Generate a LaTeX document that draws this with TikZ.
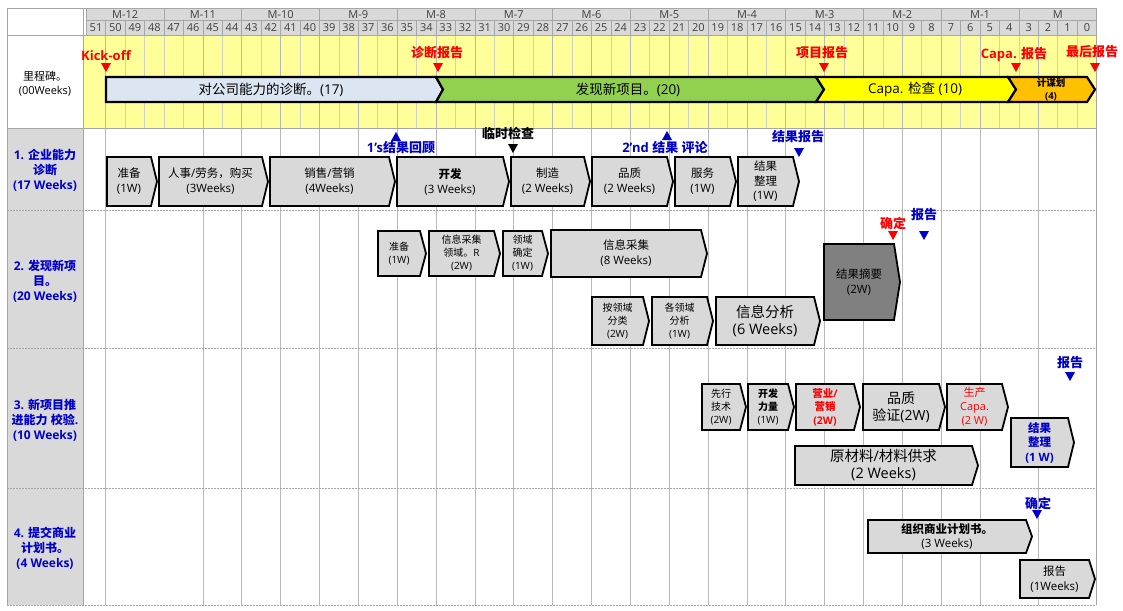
\documentclass[tikz,border=0pt]{standalone}
\usepackage{fontspec}
\setmainfont{Open Sans}
\newfontfamily\cjkf{Noto Sans CJK SC}
\newfontfamily\latf{Open Sans}
\XeTeXinterchartokenstate=1
\newXeTeXintercharclass\CJKcls
\newcount\cjkcnt
\cjkcnt="3000
\loop\XeTeXcharclass\cjkcnt=\CJKcls\ifnum\cjkcnt<"9FFF\advance\cjkcnt by 1\repeat
\cjkcnt="FF00
\loop\XeTeXcharclass\cjkcnt=\CJKcls\ifnum\cjkcnt<"FFEF\advance\cjkcnt by 1\repeat
\XeTeXinterchartoks 0 \CJKcls = {\cjkf}
\XeTeXinterchartoks 4095 \CJKcls = {\cjkf}
\XeTeXinterchartoks \CJKcls 0 = {\latf}
\XeTeXinterchartoks \CJKcls 4095 = {\latf}
\definecolor{hdrgray}{HTML}{D9D9D9}
\definecolor{gridc}{HTML}{A6A6A6}
\definecolor{lightgrid}{HTML}{D0D0C0}
\definecolor{yelarea}{HTML}{FFFF99}
\definecolor{boxgray}{HTML}{D9D9D9}
\definecolor{darkbox}{HTML}{808080}
\definecolor{barblue}{HTML}{DCE6F2}
\definecolor{bargreen}{HTML}{92D050}
\definecolor{baryellow}{HTML}{FFFF00}
\definecolor{barorange}{HTML}{FFC000}
\definecolor{mred}{HTML}{FF0000}
\definecolor{mblue}{HTML}{0000CC}
\newcommand\tipd{6}
\newcommand\chevbox[8]{%
  \draw[boxline,fill=#6] (#2,#3) -- ({#4-\tipd},#3) -- (#4,{(#3+#5)/2}) -- ({#4-\tipd},#5) -- (#2,#5) -- cycle;
  \node[boxtext,#7] (#1) at ({(#2+#4-\tipd)/2},{(#3+#5)/2}) {#8};}
\newcommand\tridn[4]{\fill[#4] ({#2-5},#3) -- ({#2+5},#3) -- (#2,{#3+9}) -- cycle;\coordinate (#1) at (#2,#3);}
\newcommand\triup[4]{\fill[#4] ({#2-5},{#3+9}) -- ({#2+5},{#3+9}) -- (#2,#3) -- cycle;\coordinate (#1) at (#2,#3);}
\begin{document}
\begin{tikzpicture}[x=1pt,y=-1pt,
  boxline/.style={draw=black,line width=1.8pt,line join=miter},
  barline/.style={draw=black,line width=2.2pt,line join=miter},
  boxtext/.style={align=center,font=\fontsize{11.5}{15}\selectfont,inner sep=0pt},
  small/.style={font=\fontsize{10}{13}\selectfont},
  big/.style={font=\fontsize{14.5}{17}\selectfont},
  large/.style={font=\fontsize{14}{17}\selectfont},
  hdr/.style={font=\fontsize{11}{12}\selectfont,text=black!75,inner sep=0pt},
  redlbl/.style={text=mred,font=\bfseries\fontsize{13}{15}\selectfont,inner sep=0pt},
  bluelbl/.style={text=mblue,font=\bfseries\fontsize{13}{15}\selectfont,inner sep=0pt},
  blklbl/.style={text=black,font=\bfseries\fontsize{13}{15}\selectfont,inner sep=0pt},
  rowlbl/.style={text=mblue,font=\bfseries\fontsize{12}{15}\selectfont,align=center,inner sep=0pt},
  bartext/.style={font=\fontsize{13.5}{16}\selectfont,inner sep=0pt},
  gline/.style={draw=gridc,line width=0.7pt},
  dline/.style={draw=gridc,line width=0.8pt,dash pattern=on 2pt off 1pt}]
\useasboundingbox (0,0) rectangle (1123,610);
\fill[white] (0,0) rectangle (1123,610);
% header
\fill[hdrgray] (86,8) rectangle (1096,35);
\fill[yelarea] (83,36) rectangle (1096,128);
\fill[hdrgray] (7,128) rectangle (83,605);
% weekly light lines in yellow area
\foreach \i in {1,...,51} {\pgfmathsetmacro\xx{86.3+\i*19.43}\draw[lightgrid,line width=0.7pt] (\xx,36) -- (\xx,128);}
% body grid lines
\foreach \i in {1,6,8,10,12,14,16,18,20,22,24,26,28,30,32,34,36,38,40,42,44,46,49} {\pgfmathsetmacro\xx{86.3+\i*19.43}\draw[gline,draw=black!28] (\xx,36) -- (\xx,605);}
% header lines
\draw[gline] (7,8) -- (1096,8);
\draw[gline] (86,20) -- (1096,20);
\draw[gline] (7,35) -- (1096,35);
\draw[gline] (83,8) -- (83,35) (86,8) -- (86,35);
\foreach \i in {1,...,51} {\pgfmathsetmacro\xx{86.3+\i*19.43}\draw[gline] (\xx,20) -- (\xx,35);}
\foreach \i in {4,8,...,48} {\pgfmathsetmacro\xx{86.3+\i*19.43}\draw[gline] (\xx,8) -- (\xx,20);}
\foreach \m [count=\c from 0] in {M-12,M-11,M-10,M-9,M-8,M-7,M-6,M-5,M-4,M-3,M-2,M-1,M} {\pgfmathsetmacro\xx{86.3+(4*\c+2)*19.43}\node[hdr] (mon\c) at (\xx,14.5) {\m};}
\foreach \j in {0,...,51} {\pgfmathsetmacro\xx{86.3+(\j+0.5)*19.43}\pgfmathtruncatemacro\wn{51-\j}\node[hdr] (wk\j) at (\xx,28) {\wn};}
% row separators and borders
\draw[gline] (7,128) -- (1096,128);
\draw[dline] (7,210) -- (1096,210);
\draw[dline] (7,348) -- (1096,348);
\draw[dline] (7,488) -- (1096,488);
\draw[dline] (7,605) -- (1096,605);
\draw[gline] (7,8) -- (7,605);
\draw[gline] (83,36) -- (83,605);
\draw[gline] (1096,8) -- (1096,605);
% row labels
\node[align=center,font=\fontsize{11}{14}\selectfont,inner sep=0pt] (lms) at (45,84) {里程碑。\\(00Weeks)};
\node[rowlbl] (l1) at (45,170) {1. 企业能力\\诊断\\(17 Weeks)};
\node[rowlbl] (l2) at (45,281) {2. 发现新项\\目。\\(20 Weeks)};
\node[rowlbl] (l3) at (45,420) {3. 新项目推\\进能力 校验.\\(10 Weeks)};
\node[rowlbl] (l4) at (45,548) {4. 提交商业\\计划书。\\(4 Weeks)};
% milestone bar
\draw[barline,fill=barblue] (106,77) -- (436,77) -- (443,89.5) -- (436,102) -- (106,102) -- cycle;
\draw[barline,fill=bargreen] (436,77) -- (816,77) -- (824,89.5) -- (816,102) -- (436,102) -- (443,89.5) -- cycle;
\draw[barline,fill=baryellow] (816,77) -- (1008,77) -- (1016,89.5) -- (1008,102) -- (816,102) -- (824,89.5) -- cycle;
\draw[barline,fill=barorange] (1008,77) -- (1087,77) -- (1095,89.5) -- (1087,102) -- (1008,102) -- (1016,89.5) -- cycle;
\node[bartext] (s1) at (271,90) {对公司能力的诊断。(17)};
\node[bartext] (s2) at (628,90) {发现新项目。(20)};
\node[bartext] (s3) at (915,89.5) {Capa. 检查 (10)};
\node[align=center,font=\bfseries\fontsize{9.5}{13}\selectfont,inner sep=0pt] (s4) at (1051,89.5) {计谋划\\(4)};
% milestone markers
\node[redlbl] (mk0) at (106,56) {Kick-off};
\tridn{t0}{106}{63}{mred}
\node[redlbl] (mk1) at (437,53) {诊断报告};
\tridn{t1}{438}{63}{mred}
\node[redlbl] (mk2) at (822,53) {项目报告};
\tridn{t2}{824}{63}{mred}
\node[redlbl] (mk3) at (1014,54) {Capa. 报告};
\tridn{t3}{1016}{63}{mred}
\node[redlbl] (mk4) at (1092,52) {最后报告};
\tridn{t4}{1095}{63}{mred}
% row 1
\chevbox{b11}{107}{157}{157}{206}{boxgray}{}{准备\\(1W)}
\chevbox{b12}{159}{157}{268}{206}{boxgray}{}{人事/劳务，购买\\(3Weeks)}
\chevbox{b13}{270}{157}{395}{206}{boxgray}{}{销售/营销\\(4Weeks)}
\chevbox{b14}{397}{157}{509}{206}{boxgray}{}{\textbf{开发}\\(3 Weeks)}
\chevbox{b15}{511}{157}{590}{206}{boxgray}{}{制造\\(2 Weeks)}
\chevbox{b16}{592}{157}{673}{206}{boxgray}{}{品质\\(2 Weeks)}
\chevbox{b17}{675}{157}{736}{206}{boxgray}{}{服务\\(1W)}
\chevbox{b18}{738}{157}{799}{206}{boxgray}{font=\fontsize{11.5}{14.5}\selectfont}{结果\\整理\\(1W)}
\triup{u1}{396}{132}{mblue}
\node[bluelbl] (m11) at (401,148) {1's结果回顾};
\node[blklbl] (m12) at (508,133) {临时检查};
\tridn{d1}{513}{144}{black}
\triup{u2}{667}{131}{mblue}
\node[bluelbl] (m13) at (665,148) {2'nd 结果 评论};
\node[bluelbl] (m14) at (798,137) {结果报告};
\tridn{d2}{799}{148}{mblue}
% row 2
\chevbox{b21}{378}{231}{426}{276}{boxgray}{small}{准备\\(1W)}
\chevbox{b22}{429}{231}{500}{276}{boxgray}{small}{信息采集\\领域。R\\(2W)}
\chevbox{b23}{503}{231}{548}{276}{boxgray}{small}{领域\\确定\\(1W)}
\chevbox{b24}{551}{230}{707}{277}{boxgray}{}{信息采集\\(8 Weeks)}
\chevbox{b25}{592}{297}{649}{345}{boxgray}{small}{按领域\\分类\\(2W)}
\chevbox{b26}{652}{297}{713}{345}{boxgray}{small}{各领域\\分析\\(1W)}
\chevbox{b27}{716}{297}{820}{345}{boxgray}{big}{信息分析\\(6 Weeks)}
\chevbox{b28}{824}{244}{900}{320}{darkbox}{}{结果摘要\\(2W)}
\node[redlbl] (m21) at (893,223) {确定};
\tridn{d3}{893}{231}{mred}
\node[bluelbl] (m22) at (924,215) {报告};
\tridn{d4}{924}{231}{mblue}
% row 3
\chevbox{b31}{702}{384}{746}{430}{boxgray}{small}{先行\\技术\\(2W)}
\chevbox{b32}{748}{384}{794}{430}{boxgray}{small}{\textbf{开发}\\\textbf{力量}\\(1W)}
\chevbox{b33}{796}{384}{860}{430}{boxgray}{text=mred,font=\bfseries\fontsize{10.5}{13.5}\selectfont}{营业/\\营销\\(2W)}
\chevbox{b34}{863}{384}{945}{430}{boxgray}{large}{品质\\验证(2W)}
\chevbox{b35}{947}{384}{1008}{430}{boxgray}{text=mred,font=\fontsize{11}{14}\selectfont}{生产\\Capa.\\(2 W)}
\chevbox{b36}{1011}{418}{1074}{467}{boxgray}{text=mblue,font=\bfseries\fontsize{11.5}{14.5}\selectfont}{结果\\整理\\(1 W)}
\chevbox{b37}{795}{446}{978}{485}{boxgray}{font=\fontsize{14.5}{17}\selectfont}{原材料/材料供求\\(2 Weeks)}
\node[bluelbl] (m31) at (1070,363) {报告};
\tridn{d5}{1070}{372}{mblue}
% row 4
\chevbox{b41}{868}{520}{1032}{553}{boxgray}{font=\fontsize{11.5}{14.5}\selectfont}{\textbf{组织商业计划书。}\\(3 Weeks)}
\chevbox{b42}{1020}{560}{1095}{598}{boxgray}{}{报告\\(1Weeks)}
\node[bluelbl] (m41) at (1038,503) {确定};
\tridn{d6}{1037}{510}{mblue}
\end{tikzpicture}
\end{document}
